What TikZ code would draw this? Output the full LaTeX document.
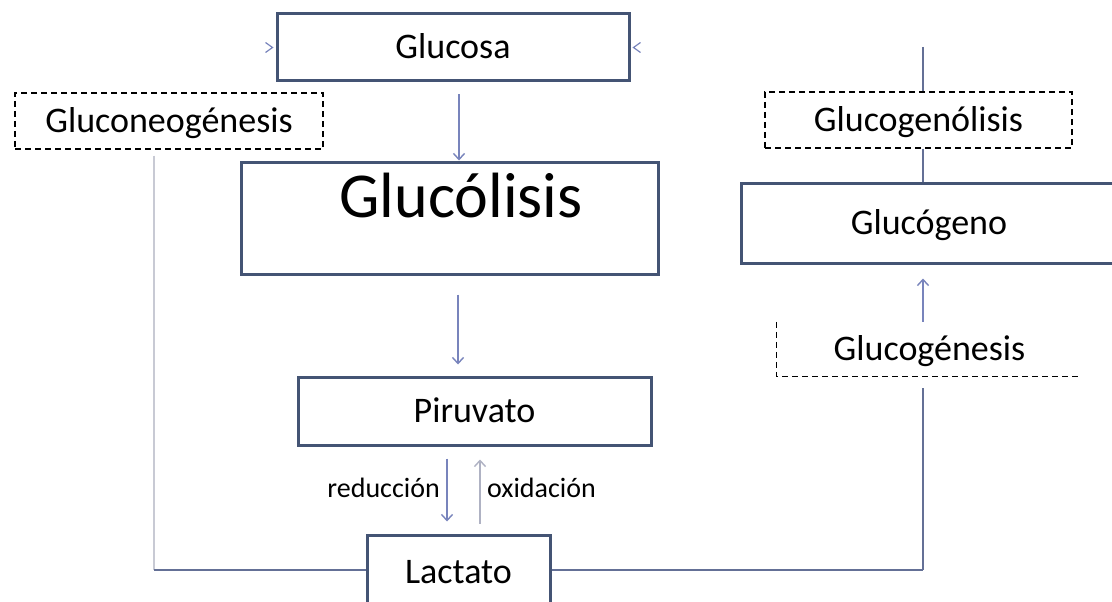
\documentclass[tikz,border=0pt]{standalone}
\usepackage{fontspec}
\setmainfont{Carlito}
\usetikzlibrary{arrows.meta,calc}
\definecolor{boxc}{RGB}{68,84,116}
\definecolor{arrc}{RGB}{120,132,188}
\definecolor{lightc}{RGB}{200,202,212}
\definecolor{linec}{RGB}{100,112,150}
\definecolor{oxic}{RGB}{175,178,195}
\begin{document}
\begin{tikzpicture}[x=1pt,y=-1pt,
  txt/.style={font=\fontsize{36}{40}\selectfont,text height=23pt,text depth=0pt},
  box/.style={txt,draw=boxc,line width=3pt,fill=white,inner sep=0pt},
  dbox/.style={txt,draw=black,dash pattern=on 6pt off 4pt,line width=1.3pt,inner sep=0pt},
  dline/.style={draw=black,dash pattern=on 6pt off 4pt,line width=1.3pt},
  lab/.style={font=\fontsize{28}{32}\selectfont,inner sep=0pt,text height=19pt,text depth=0pt},
  arr/.style={draw=arrc,line width=1.4pt,-{Straight Barb[length=6pt,width=11pt]}},
  arrox/.style={draw=oxic,line width=1.4pt,-{Straight Barb[length=6pt,width=11pt]}},
  conn/.style={draw=linec,line width=1.5pt},
  lconn/.style={draw=lightc,line width=1.5pt},
  tipc/.style={draw=arrc,line width=1.2pt}]
\path[use as bounding box,fill=white] (0,0) rectangle (1112,602);
\clip (0,0) rectangle (1112,602);

% nodes
\node[box,minimum width=352pt,minimum height=67pt] (glucosa) at (453,47.5) {Glucosa};
\node[dbox,minimum width=308pt,minimum height=56pt] (gneo) at (169,121) {Gluconeogénesis};
\node[dbox,minimum width=307pt,minimum height=56pt] (glisis) at (918.5,120) {Glucogenólisis};
\node[box,minimum width=417pt,minimum height=112pt] (glucolisis) at (449.5,218) {};
\node[font=\fontsize{64}{70}\selectfont,anchor=base,inner sep=0pt] (glucolisistxt) at (461,217) {Glucólisis};
\node[box,minimum width=376pt,minimum height=80pt] (glucogeno) at (929,223) {Glucógeno};
\node[txt,inner sep=0pt,minimum width=305pt,minimum height=54pt] (ggen) at (929.5,349) {Glucogénesis};
\draw[dline] (ggen.north west) -- (ggen.south west) -- (ggen.south east);
\node[box,minimum width=353pt,minimum height=68pt] (piruvato) at (474.5,411) {Piruvato};
\node[box,minimum width=183pt,minimum height=74pt] (lactato) at (458.5,572) {Lactato};
\node[lab,anchor=east] (red) at (440,488) {reducción};
\node[lab,anchor=west] (oxi) at (487,488) {oxidación};

% helper x positions
\coordinate (c1) at (459,0);
\coordinate (c2) at (458,0);
\coordinate (c3) at (447,0);
\coordinate (c4) at (480,0);
\coordinate (c5) at (154,0);
\coordinate (c6) at (923,0);
\coordinate (top) at (923,47);
\coordinate (cornerL) at (154,570);
\coordinate (cornerR) at (923,570);

% connectors
\draw[arr,shorten <=12pt] (glucosa.south -| c1) -- (glucolisis.north -| c1);
\draw[arr,shorten <=19pt,shorten >=11pt] (glucolisis.south -| c2) -- (piruvato.north -| c2);
\draw[arr,shorten <=12pt,shorten >=12pt] (piruvato.south -| c3) -- (lactato.north -| c3);
\draw[arrox,shorten <=10pt,shorten >=13pt] (lactato.north -| c4) -- (piruvato.south -| c4);
\draw[lconn,shorten <=6pt] (gneo.south -| c5) -- (cornerL);
\draw[conn] (cornerL) -- (lactato.west |- cornerL);
\draw[conn] (lactato.east |- cornerR) -- (cornerR);
\draw[conn,shorten >=12pt] (cornerR) -- (ggen.south -| c6);
\draw[arr,shorten >=14pt] (ggen.north -| c6) -- (glucogeno.south -| c6);
\draw[conn] (top) -- (glisis.north -| c6);
\draw[conn] (glisis.south -| c6) -- (glucogeno.north -| c6);

% small arrowheads at Glucosa
\draw[tipc] ($(glucosa.west)+(-10,-5)$) -- ($(glucosa.west)+(-3,0)$) -- ($(glucosa.west)+(-10,5)$);
\draw[tipc] ($(glucosa.east)+(10,-5)$) -- ($(glucosa.east)+(3,0)$) -- ($(glucosa.east)+(10,5)$);
\end{tikzpicture}
\end{document}
